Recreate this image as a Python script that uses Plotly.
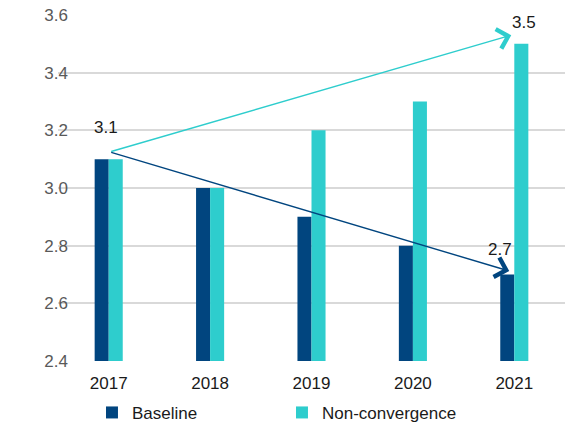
import plotly.graph_objects as go

# Scenario data
years = ["2017", "2018", "2019", "2020", "2021"]
baseline = [3.1, 3.0, 2.9, 2.8, 2.7]
non_convergence = [3.1, 3.0, 3.2, 3.3, 3.5]
y_ticks = [2.4, 2.6, 2.8, 3.0, 3.2, 3.4, 3.6]

NAVY = "#01457F"
TEAL = "#2ECDCD"
FONT = "Liberation Sans, Arial, sans-serif"

fig = go.Figure()
fig.add_trace(go.Bar(x=years, y=baseline, name="Baseline", marker_color=NAVY,
                     marker_line_width=0))
fig.add_trace(go.Bar(x=years, y=non_convergence, name="Non-convergence",
                     marker_color=TEAL, marker_line_width=0))

# Trend arrows from the common 2017 starting point to each 2021 outcome
start_x, start_y = 0.01, baseline[0] + 0.025
arrows = [
    (len(years) - 1 - 0.03, non_convergence[-1] + 0.03, TEAL),
    (len(years) - 1 - 0.05, baseline[-1] + 0.012, NAVY),
]
for tx, ty, col in arrows:
    fig.add_annotation(x=tx, y=ty, ax=start_x, ay=start_y, xref="x", yref="y",
                       axref="x", ayref="y", text="", showarrow=True,
                       arrowhead=4, arrowsize=2.8, arrowwidth=1.4,
                       arrowcolor=col, standoff=0, startstandoff=0)

# Value labels
labels = [
    (-0.03, baseline[0] + 0.11, baseline[0]),
    (4.10, non_convergence[-1] + 0.075, non_convergence[-1]),
    (3.86, baseline[-1] + 0.085, baseline[-1]),
]
for lx, ly, val in labels:
    fig.add_annotation(x=lx, y=ly, xref="x", yref="y", text=f"{val:.1f}",
                       showarrow=False, font=dict(family=FONT, size=17, color="#1a1a1a"))

fig.update_layout(
    width=577, height=430,
    margin=dict(l=58, r=12, t=15, b=69, autoexpand=False),
    paper_bgcolor="white", plot_bgcolor="white",
    barmode="group", bargap=0.723, bargroupgap=0,
    font=dict(family=FONT, size=17, color="#1a1a1a"),
    showlegend=True,
    legend=dict(orientation="h", x=0.067, xanchor="left", y=-0.15, yanchor="middle",
                entrywidth=145, entrywidthmode="pixels",
                font=dict(family=FONT, size=17, color="#1a1a1a"),
                itemwidth=30, bgcolor="rgba(0,0,0,0)"),
)
fig.update_xaxes(type="category", range=[-0.5, 4.5], showgrid=False,
                 showline=False, ticks="", ticklabelstandoff=10,
                 tickfont=dict(size=17, color="#1a1a1a"))
fig.update_yaxes(range=[2.4, 3.6], tickvals=y_ticks, ticktext=[f"{v:.1f}" for v in y_ticks],
                 showgrid=True, gridcolor="#D9D9D9", gridwidth=1.5, zeroline=False,
                 showline=False, ticks="", ticklabelstandoff=-11,
                 tickfont=dict(size=17, color="#595959"))

fig.write_html("out.html")
